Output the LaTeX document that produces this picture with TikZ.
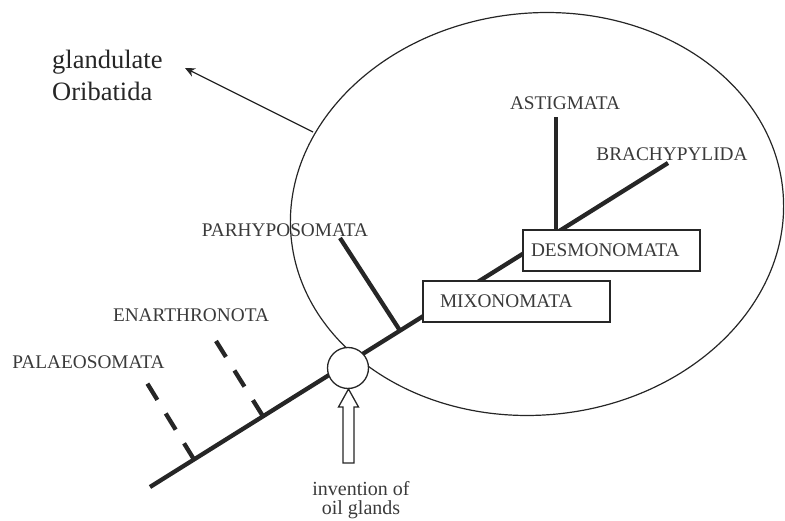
\documentclass[tikz,border=0pt]{standalone}
\usepackage{fontspec}
\setmainfont{Liberation Serif}
\usetikzlibrary{arrows.meta,calc}
\definecolor{ink}{HTML}{262626}
\definecolor{txt}{HTML}{3A3A3A}
\begin{document}
\begin{tikzpicture}[x=1pt,y=-1pt,
  taxlabel/.style={font=\fontsize{19.3}{22}\selectfont, text=txt, inner sep=0pt, anchor=base},
  branch/.style={draw=ink, line width=4.3pt},
  dashbranch/.style={branch, dash pattern=on 19pt off 16pt},
  taxbox/.style={taxlabel, draw=ink, line width=1.6pt, fill=white, anchor=center, align=left, minimum height=41pt, inner ysep=0pt},
  thinline/.style={draw=ink, line width=1.3pt}]
\useasboundingbox (0,0) rectangle (785,521);
% enclosing ellipse
\draw[thinline, line width=1.2pt, rotate around={5.5:(537,214)}] (537,214) ellipse [x radius=247pt, y radius=201pt];
% main stem
\coordinate (root) at (150,487);
\coordinate (tip) at (668,163);
\draw[branch] (root) -- (tip);
% branch points
\coordinate (palB) at (194,459.5);
\coordinate (palT) at (147,383);
\coordinate (enaB) at (263,416.3);
\coordinate (enaT) at (216,341);
\coordinate (parB) at (400,330.6);
\coordinate (parT) at (340,238);
\coordinate (astB) at (556,233);
\coordinate (astT) at (556,117);
\draw[dashbranch] (palB) -- (palT);
\draw[dashbranch] (enaB) -- (enaT);
\draw[branch] (parB) -- (parT);
\draw[branch] (astB) -- (astT);
% boxes
\node (mixo) [taxbox, text width=153pt, inner xsep=17pt] at (516.5,301.5) {MIXONOMATA};
\node (desmo) [taxbox, text width=161pt, inner xsep=8pt] at (611.5,250.5) {DESMONOMATA};
% oil gland circle
\node (gland) [circle, draw=ink, line width=1.3pt, fill=white, minimum size=41pt, inner sep=0pt] at (348,368) {};
% hollow arrow
\draw[thinline, fill=white] (348.5,389) -- (358.5,407) -- (354,407) -- (354,463) -- (343,463) -- (343,407) -- (338.5,407) -- cycle;
\node (oil) [font=\fontsize{20}{19.5}\selectfont, text=txt, align=center, anchor=base, inner sep=0pt] at (361,514.5) {invention of\\oil glands};
% labels
\node (astig) [taxlabel] at (565,109.5) {ASTIGMATA};
\node (brachy) [taxlabel] at (672,160.4) {BRACHYPYLIDA};
\node (parhy) [taxlabel] at (285,236.4) {PARHYPOSOMATA};
\node (enar) [taxlabel] at (191,321.4) {ENARTHRONOTA};
\node (palaeo) [taxlabel] at (88.5,368.4) {PALAEOSOMATA};
% glandulate Oribatida
\node (glob) [font=\fontsize{26.5}{32}\selectfont, text=ink, align=left, anchor=base west, inner sep=0pt] at (52,101) {glandulate\\Oribatida};
\coordinate (ellpt) at (313,132);
\coordinate (glarr) at (185,68);
\draw[thinline, -{Stealth[length=10pt,width=9pt]}] (ellpt) -- (glarr);
\end{tikzpicture}
\end{document}
